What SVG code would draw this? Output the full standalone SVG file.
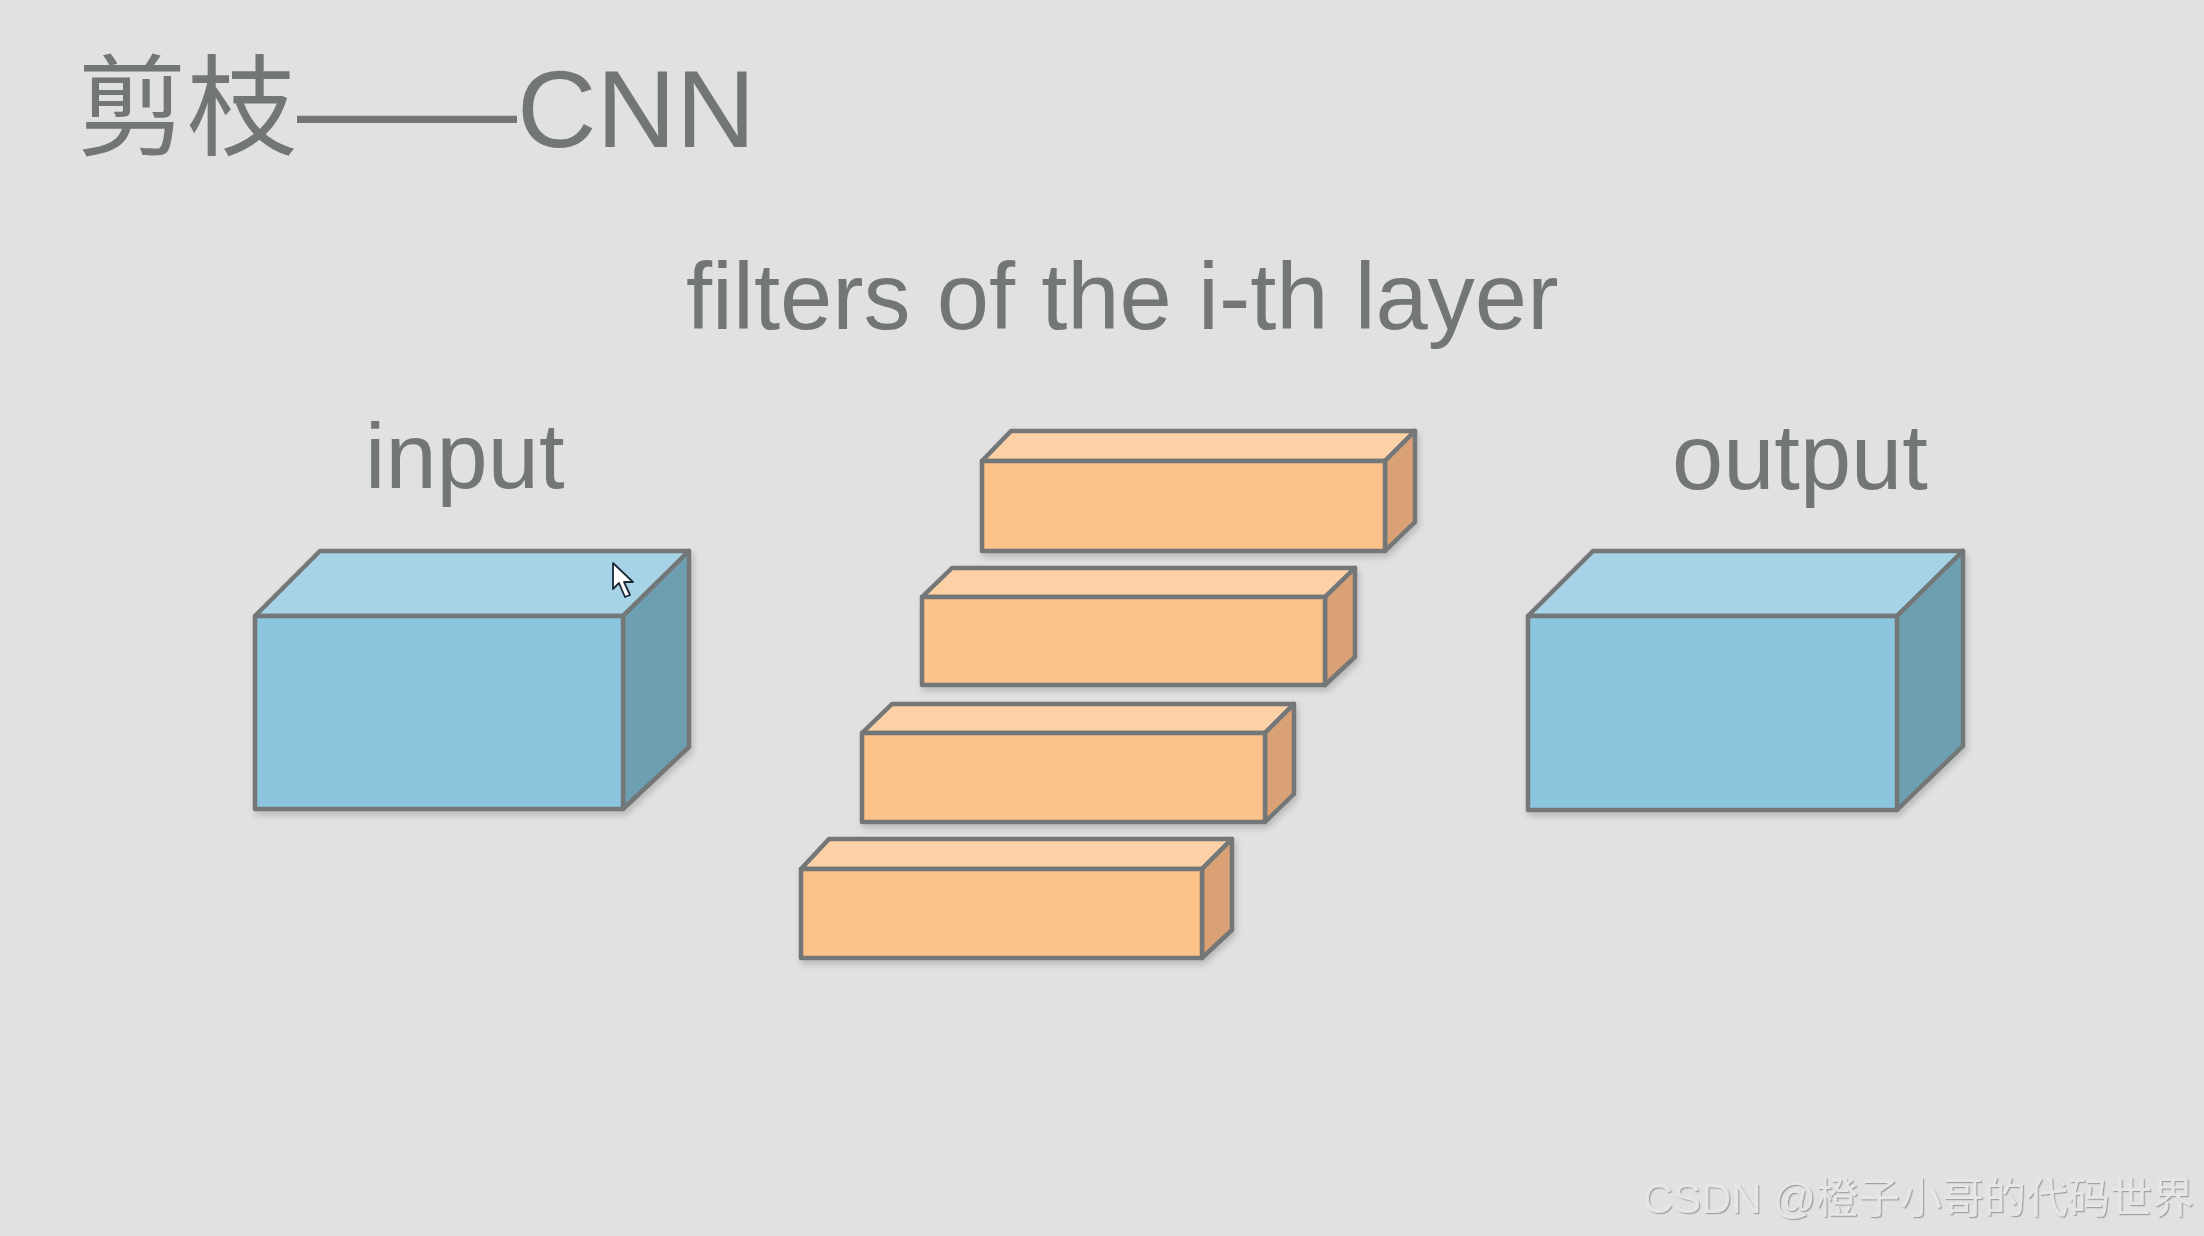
<svg xmlns="http://www.w3.org/2000/svg" width="2204" height="1236" viewBox="0 0 2204 1236">
  <defs>
    <filter id="shadow" x="-5%" y="-5%" width="115%" height="120%">
      <feDropShadow dx="2" dy="4" stdDeviation="3" flood-color="#000" flood-opacity="0.18"/>
    </filter>
    <filter id="emboss" x="-5%" y="-20%" width="110%" height="140%">
      <feDropShadow dx="1.2" dy="1.2" stdDeviation="0.6" flood-color="#9a9a9a" flood-opacity="0.9"/>
    </filter>
  </defs>
  <style>
    .txt { font-family: "Liberation Sans", "Noto Sans CJK SC", Arial, sans-serif; fill: #737677; }
    .edge { stroke: #737777; stroke-width: 4.5; stroke-linejoin: round; }
    .bfront { fill: #8cc6de; }
    .btop { fill: #a6d4e6; }
    .bside { fill: #6d9fb1; }
    .ofront { fill: #fdc18a; }
    .otop { fill: #fdd0a5; }
    .oside { fill: #d9a174; }
    .wm { font-family: "Liberation Sans", "Noto Sans CJK SC", sans-serif; fill: #e6e6e6; }
  </style>
  <rect width="2204" height="1236" fill="#e1e1e1"/>

  <g id="title">
    <text class="txt" x="77" y="147" font-size="110">剪枝——CNN</text>
  </g>

  <g id="subtitle">
    <text class="txt" x="686" y="329" font-size="94">filters of the i-th layer</text>
  </g>

  <g id="input">
    <text class="txt" x="365" y="488" font-size="92">input</text>
    <g filter="url(#shadow)">
      <polygon class="btop edge" points="255,616 320,551 689,551 623,616"/>
      <polygon class="bside edge" points="623,616 689,551 689,747 623,809"/>
      <rect class="bfront edge" x="255" y="616" width="368" height="193"/>
    </g>
    <polygon points="613,563 613,589 619,583 625,597 630,595 624,582 633,582" fill="#ffffff" stroke="#1c2836" stroke-width="1.8" stroke-linejoin="round"/>
  </g>

  <g id="output">
    <text class="txt" x="1672" y="489" font-size="92">output</text>
    <g filter="url(#shadow)">
      <polygon class="btop edge" points="1528,616 1593,551 1963,551 1897,616"/>
      <polygon class="bside edge" points="1897,616 1963,551 1963,746 1897,810"/>
      <rect class="bfront edge" x="1528" y="616" width="369" height="194"/>
    </g>
  </g>

  <g id="filter1" filter="url(#shadow)">
    <polygon class="otop edge" points="982,461 1011,431 1415,431 1385,461"/>
    <polygon class="oside edge" points="1385,461 1415,431 1415,522 1385,551"/>
    <rect class="ofront edge" x="982" y="461" width="403" height="90"/>
  </g>
  <g id="filter2" filter="url(#shadow)">
    <polygon class="otop edge" points="922,597 952,568 1355,568 1325,597"/>
    <polygon class="oside edge" points="1325,597 1355,568 1355,657 1325,685"/>
    <rect class="ofront edge" x="922" y="597" width="403" height="88"/>
  </g>
  <g id="filter3" filter="url(#shadow)">
    <polygon class="otop edge" points="862,733 892,704 1294,704 1265,733"/>
    <polygon class="oside edge" points="1265,733 1294,704 1294,794 1265,822"/>
    <rect class="ofront edge" x="862" y="733" width="403" height="89"/>
  </g>
  <g id="filter4" filter="url(#shadow)">
    <polygon class="otop edge" points="801,869 829,839 1232,839 1202,869"/>
    <polygon class="oside edge" points="1202,869 1232,839 1232,930 1202,958"/>
    <rect class="ofront edge" x="801" y="869" width="401" height="89"/>
  </g>

  <g id="connectors"></g>

  <g id="watermark">
    <text class="wm" x="2194" y="1213" font-size="42" text-anchor="end" filter="url(#emboss)">CSDN @橙子小哥的代码世界</text>
  </g>
</svg>
